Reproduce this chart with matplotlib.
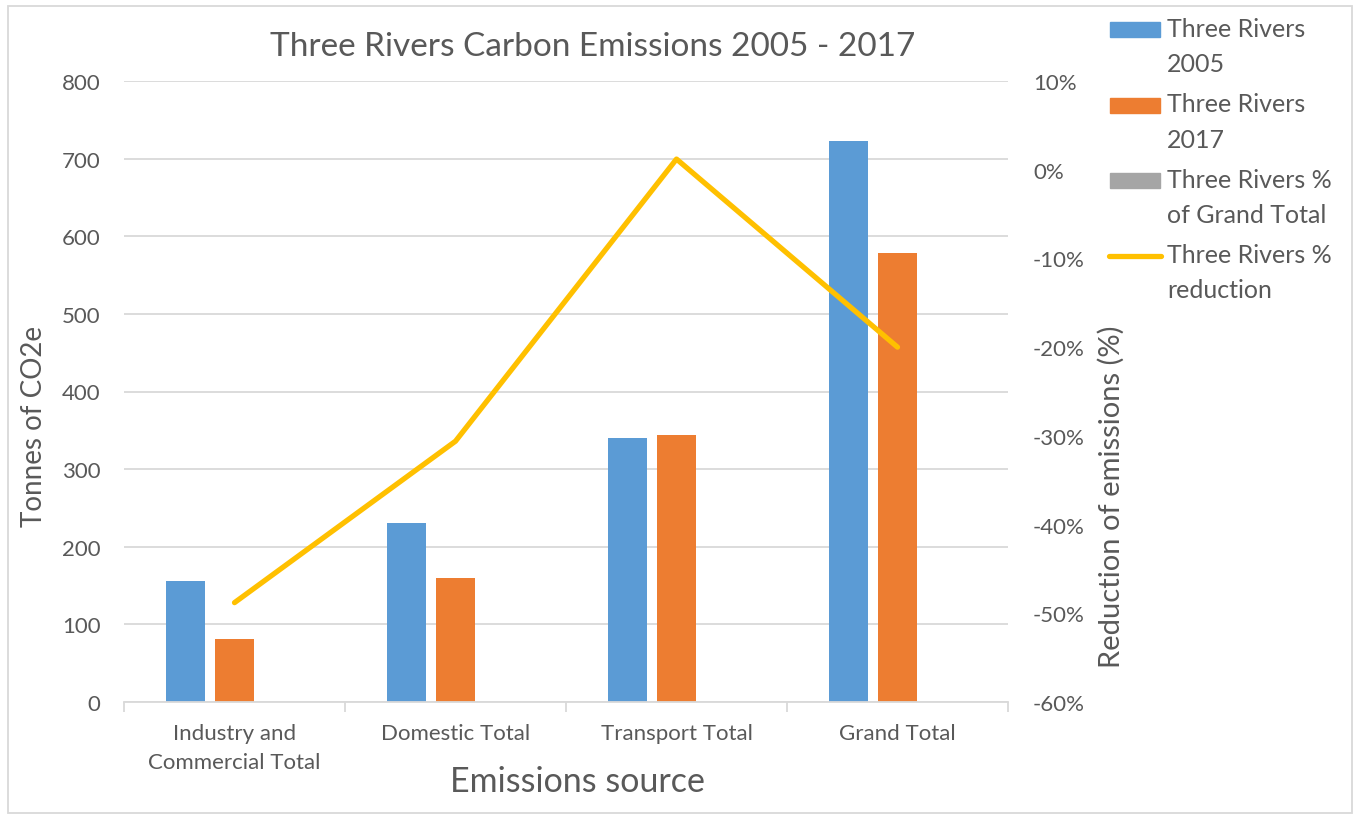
import matplotlib
matplotlib.use("Agg")
import matplotlib.pyplot as plt
import numpy as np
from matplotlib.patches import Rectangle
from matplotlib.lines import Line2D
from matplotlib.ticker import PercentFormatter

plt.rcParams['font.family'] = ['Lato', 'DejaVu Sans']
plt.rcParams['axes.unicode_minus'] = False

categories = ["Industry and\nCommercial Total", "Domestic Total", "Transport Total", "Grand Total"]
emissions_2005 = [156, 230, 340, 723]
emissions_2017 = [81, 160, 344, 578]
pct_of_grand_total = [0, 0, 0, 0]
pct_reduction = [-0.488, -0.306, 0.012, -0.20]
series_labels = ["Three Rivers\n2005", "Three Rivers\n2017", "Three Rivers %\nof Grand Total", "Three Rivers %\nreduction"]

left_ticks = list(range(0, 801, 100))
right_ticks = [0.1, 0.0, -0.1, -0.2, -0.3, -0.4, -0.5, -0.6]

TXT = "#595959"
GRID = "#d9d9d9"
BLUE = "#5b9bd5"
ORANGE = "#ed7d31"
GRAY = "#a5a5a5"
GOLD = "#ffc000"

fig = plt.figure(figsize=(13.6, 8.2), dpi=100)
W, H = 1360, 820
ax = fig.add_axes([124 / W, 1 - 703 / H, (1008 - 124) / W, (703 - 82) / H])

x = np.arange(len(categories))
bw = 0.176
off = 0.222
ax.bar(x - off, emissions_2005, bw, color=BLUE, zorder=2)
ax.bar(x, emissions_2017, bw, color=ORANGE, zorder=2)
ax.bar(x + off, pct_of_grand_total, bw, color=GRAY, zorder=2)

ax.set_xlim(-0.5, len(categories) - 0.5)
ax.set_ylim(0, 800)
ax.set_yticks(left_ticks)
ax.yaxis.grid(True, color=GRID, linewidth=1.3, zorder=0)
ax.set_axisbelow(True)
for s in ["left", "right", "top"]:
    ax.spines[s].set_visible(False)
ax.spines["bottom"].set_color(GRID)
ax.spines["bottom"].set_linewidth(1.3)
ax.tick_params(axis="y", length=0, pad=17, labelsize=16, labelcolor=TXT)
ax.set_xticks(x)
ax.set_xticklabels(categories, fontsize=16, color=TXT, linespacing=1.55)
ax.tick_params(axis="x", length=0, pad=15)
ax.set_xticks(np.arange(len(categories) + 1) - 0.5, minor=True)
ax.tick_params(axis="x", which="minor", length=7, color=GRID, width=1.3)

ax2 = ax.twinx()
ax2.plot(x, pct_reduction, color=GOLD, linewidth=3.8, solid_capstyle="round", solid_joinstyle="round", zorder=3)
ax2.set_ylim(-0.6, 0.1)
ax2.set_yticks(right_ticks)
ax2.yaxis.set_major_formatter(PercentFormatter(1.0, decimals=0))
for s in ["left", "right", "top", "bottom"]:
    ax2.spines[s].set_visible(False)
ax2.tick_params(axis="y", length=0, pad=18, labelsize=16, labelcolor=TXT)

fig.text(593 / W, 1 - 47 / H, "Three Rivers Carbon Emissions 2005 - 2017", ha="center", va="center",
         fontsize=24, color=TXT)
fig.text(34 / W, 1 - 426 / H, "Tonnes of CO2e", rotation=90, ha="center", va="center", fontsize=20, color=TXT)
fig.text(577 / W, 1 - 782 / H, "Emissions source", ha="center", va="center", fontsize=24.5, color=TXT)
fig.text(1111 / W, 1 - 497 / H, "Reduction of emissions (%)", rotation=90, ha="center", va="center",
         fontsize=21, color=TXT)

# legend (drawn to match the reference layout)
leg_colors = [BLUE, ORANGE, GRAY]
pitch = 75.5
for i, lab in enumerate(series_labels):
    yc = 30.5 + pitch * i
    if i < 3:
        fig.patches.append(Rectangle((1110 / W, 1 - (yc + 7.5) / H), 50 / W, 15 / H,
                                     transform=fig.transFigure, color=leg_colors[i]))
    else:
        fig.lines.append(Line2D([1109 / W, 1161 / W], [1 - yc / H, 1 - yc / H], transform=fig.transFigure,
                                color=GOLD, linewidth=3.8, solid_capstyle="round"))
    for j, line in enumerate(lab.split("\n")):
        fig.text(1167 / W, 1 - (37 + pitch * i + 35 * j) / H, line, ha="left", va="baseline",
                 fontsize=18, color=TXT)

fig.patches.append(Rectangle((8 / W, 6 / H), (1352 - 8) / W, (813 - 6) / H, transform=fig.transFigure,
                             fill=False, edgecolor=GRID, linewidth=1.3))

fig.savefig("out.png", dpi=100)
